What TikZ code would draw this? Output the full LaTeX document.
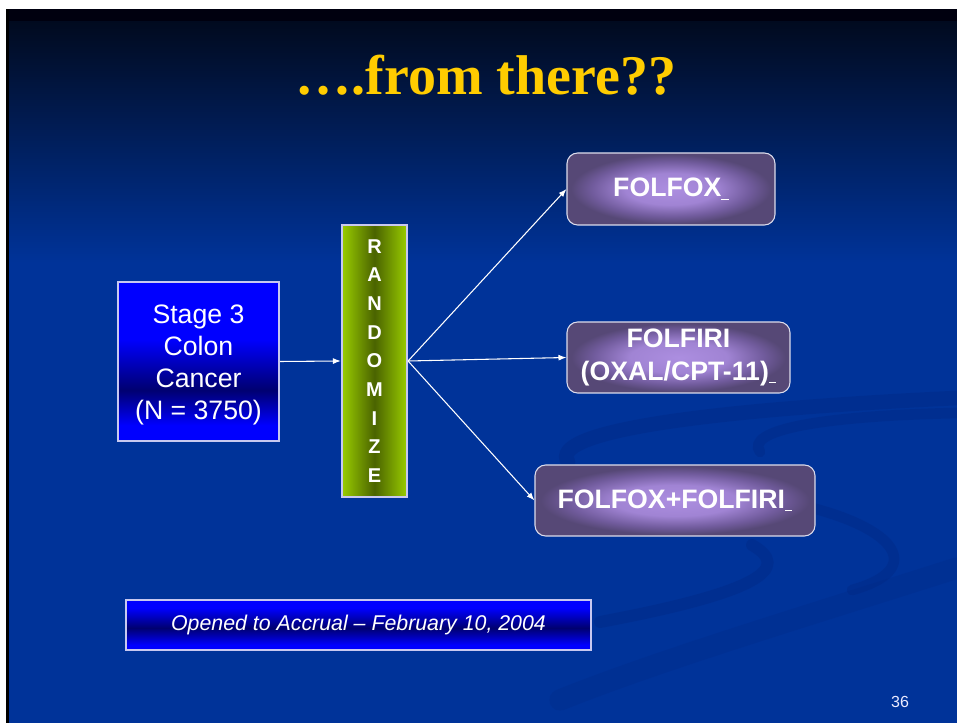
\documentclass[tikz,border=0pt]{standalone}
\usepackage{fontspec}
\setmainfont{Liberation Sans}
\newfontfamily\titlefont{Liberation Serif}
\usetikzlibrary{arrows.meta}

\definecolor{slideblue}{HTML}{003399}
\definecolor{slidetop}{HTML}{010A1E}
\definecolor{topband}{HTML}{00000F}
\definecolor{swooshblue}{HTML}{00257E}
\definecolor{titlegold}{HTML}{FFCC00}
\definecolor{boxblue}{HTML}{0000FF}
\definecolor{boxnavy}{HTML}{000070}
\definecolor{boxedge}{HTML}{C8C8F0}
\definecolor{limegreen}{HTML}{99CC00}
\definecolor{olivedark}{HTML}{4A6300}
\definecolor{glowc}{HTML}{AC8EE0}
\definecolor{glowm}{HTML}{7D64AE}
\definecolor{glowe}{HTML}{564876}
\definecolor{glowedge}{HTML}{DCDCEC}

% soft purple glow for the treatment boxes
\pgfdeclareradialshading{armglow}{\pgfpoint{0bp}{0bp}}{%
  color(0bp)=(glowc); color(11bp)=(glowc!75!glowm); color(19bp)=(glowm!70!glowe);
  color(24bp)=(glowe); color(50bp)=(glowe)}
% blue bars, darkest a little below the middle (box spans 25bp..75bp)
\pgfdeclareverticalshading{stagebar}{100bp}{%
  color(0bp)=(boxblue); color(30bp)=(boxblue); color(41bp)=(boxnavy);
  color(57bp)=(boxblue); color(100bp)=(boxblue)}
\pgfdeclareverticalshading{datebar}{100bp}{%
  color(0bp)=(boxblue); color(30bp)=(boxblue); color(47bp)=(boxnavy);
  color(67bp)=(boxblue); color(100bp)=(boxblue)}

\tikzset{
  bluebox/.style={draw=boxedge, line width=1.6pt, text=white, inner sep=0pt,
    align=center},
  randbox/.style={draw=boxedge, line width=1.6pt, left color=limegreen,
    right color=limegreen, middle color=olivedark, text=white, inner sep=0pt,
    align=center, minimum width=65*0.75pt, minimum height=272*0.75pt,
    font=\bfseries\fontsize{15}{21.5}\selectfont},
  armbox/.style={draw=glowedge, line width=0.8pt, rounded corners=8pt,
    shading=armglow, text=white, inner sep=0pt, align=center,
    minimum height=71*0.75pt, font=\bfseries\fontsize{20}{24.5}\selectfont},
  flow/.style={draw=white, line width=0.8pt,
    -{Latex[length=6pt, width=4.5pt]}},
  swoosh/.style={draw=swooshblue, opacity=0.3, line cap=round},
}
\newcommand{\tail}{\underline{\ }}

\begin{document}
\begin{tikzpicture}[x=0.75pt, y=-0.75pt]
\useasboundingbox (0,0) rectangle (957,723);

% page and slide background
\fill[white] (0,0) rectangle (957,723);
\fill[black] (6,9) rectangle (9,723);
\fill[slideblue] (9,9) rectangle (957,723);
\shade[top color=slidetop, bottom color=slideblue] (9,20) rectangle (957,262);
\fill[topband] (9,9) rectangle (957,21);

% faint decorative swooshes
\draw[swoosh, line width=11pt] (568,462) .. controls (548,432) and (700,410) .. (957,398);
\draw[swoosh, line width=8pt] (760,452) .. controls (745,430) and (820,416) .. (957,413);
\draw[swoosh, line width=8pt] (800,505) .. controls (900,528) and (925,570) .. (852,590);
\draw[swoosh, line width=9pt] (752,545) .. controls (792,568) and (760,592) .. (600,622);
\draw[swoosh, line width=16pt, opacity=0.2] (957,568) .. controls (800,618) and (660,660) .. (560,700);

% title
\node[anchor=base, text=titlegold, inner sep=0pt,
      font=\titlefont\bfseries\fontsize{42}{50}\selectfont] (title) at (486,95)
  {….from there??};

% diagram
\node[bluebox, shading=stagebar, minimum width=161*0.75pt, minimum height=159*0.75pt,
      font=\fontsize{20}{24}\selectfont] (stage) at (198.5,361.5)
  {\raisebox{0pt}[\dimexpr\height+4.5pt\relax][\depth]{\parbox{110pt}{\centering
    Stage 3\\Colon\\Cancer\\(N = 3750)}}};
\node[randbox] (rand) at (374.5,361) {R\\A\\N\\D\\O\\M\\I\\Z\\E};

\node[armbox, minimum width=208*0.75pt, minimum height=72*0.75pt] (folfox) at (671,189) {FOLFOX\tail};
\node[armbox, minimum width=223*0.75pt] (folfiri) at (678.5,357.5) {FOLFIRI\\(OXAL/CPT-11)\tail};
\node[armbox, minimum width=280*0.75pt] (both) at (675,500.5) {FOLFOX+FOLFIRI\tail};

\draw[flow] (stage.east) -- (rand.west);
\draw[flow] (rand.east) -- (folfox.west);
\draw[flow] (rand.east) -- (folfiri.west);
\draw[flow] (rand.east) -- (both.west);

\node[bluebox, shading=datebar, minimum width=465*0.75pt, minimum height=50*0.75pt,
      font=\itshape\fontsize{16}{19}\selectfont] (opened) at (358.5,625)
  {Opened to Accrual -- February 10, 2004};

% slide number
\node[text=white!92!blue, font=\fontsize{12}{14}\selectfont, inner sep=0pt] (pagenum) at (900,702) {36};
\end{tikzpicture}
\end{document}
